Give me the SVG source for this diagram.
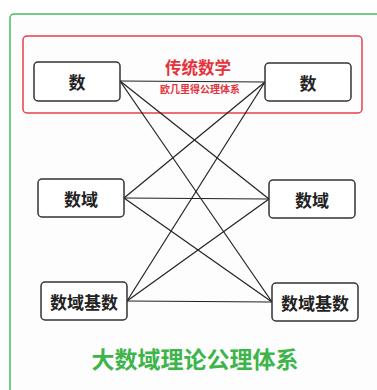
<svg xmlns="http://www.w3.org/2000/svg" width="377" height="390" viewBox="0 0 377 390">
<style>
.node rect{fill:#fff;stroke:#333;stroke-width:1.5}
.node text{font-family:"Noto Sans CJK SC","Noto Sans",sans-serif;font-weight:bold;font-size:17px;fill:#222;text-anchor:middle;dominant-baseline:central}
.conn line{stroke:#222;stroke-width:1.2}
.red{font-family:"Noto Sans CJK SC",sans-serif;font-weight:bold;fill:#e5323b;text-anchor:middle}
.green{font-family:"Noto Sans CJK SC",sans-serif;font-weight:bold;fill:#3db54a;text-anchor:middle}
</style>
<rect width="377" height="390" fill="#fff"/>
<rect x="10" y="14" width="380" height="390" rx="4" fill="#fdfdfd" stroke="#4cbb5c" stroke-width="1.5"/>
<g id="frame-traditional">
<rect x="23" y="36" width="339" height="77" rx="4" fill="none" stroke="#e5404a" stroke-width="1.5"/>
<text class="red" x="198" y="74" font-size="16.5">传统数学</text>
<text class="red" x="200" y="93" font-size="10">欧几里得公理体系</text>
</g>
<g class="conn" id="connectors">
<line x1="120" y1="81" x2="265" y2="82"/>
<line x1="120" y1="81" x2="269" y2="199"/>
<line x1="120" y1="81" x2="272" y2="302"/>
<line x1="124" y1="198" x2="265" y2="82"/>
<line x1="124" y1="198" x2="269" y2="199"/>
<line x1="124" y1="198" x2="272" y2="302"/>
<line x1="127" y1="301" x2="265" y2="82"/>
<line x1="127" y1="301" x2="269" y2="199"/>
<line x1="127" y1="301" x2="272" y2="302"/>
</g>
<g class="node" id="left-shu"><rect x="34" y="62" width="86" height="39" rx="4"/><text x="77" y="81.5">数</text></g>
<g class="node" id="right-shu"><rect x="265" y="63" width="86" height="38" rx="4"/><text x="308" y="82">数</text></g>
<g class="node" id="left-shuyu"><rect x="38" y="179" width="86" height="38" rx="4"/><text x="81" y="198">数域</text></g>
<g class="node" id="right-shuyu"><rect x="269" y="180" width="86" height="38" rx="4"/><text x="312" y="199">数域</text></g>
<g class="node" id="left-jishu"><rect x="41" y="282" width="86" height="38" rx="4"/><text x="84" y="301">数域基数</text></g>
<g class="node" id="right-jishu"><rect x="272" y="283" width="86" height="38" rx="4"/><text x="315" y="302">数域基数</text></g>
<text class="green" x="195" y="368" font-size="23">大数域理论公理体系</text>
</svg>
